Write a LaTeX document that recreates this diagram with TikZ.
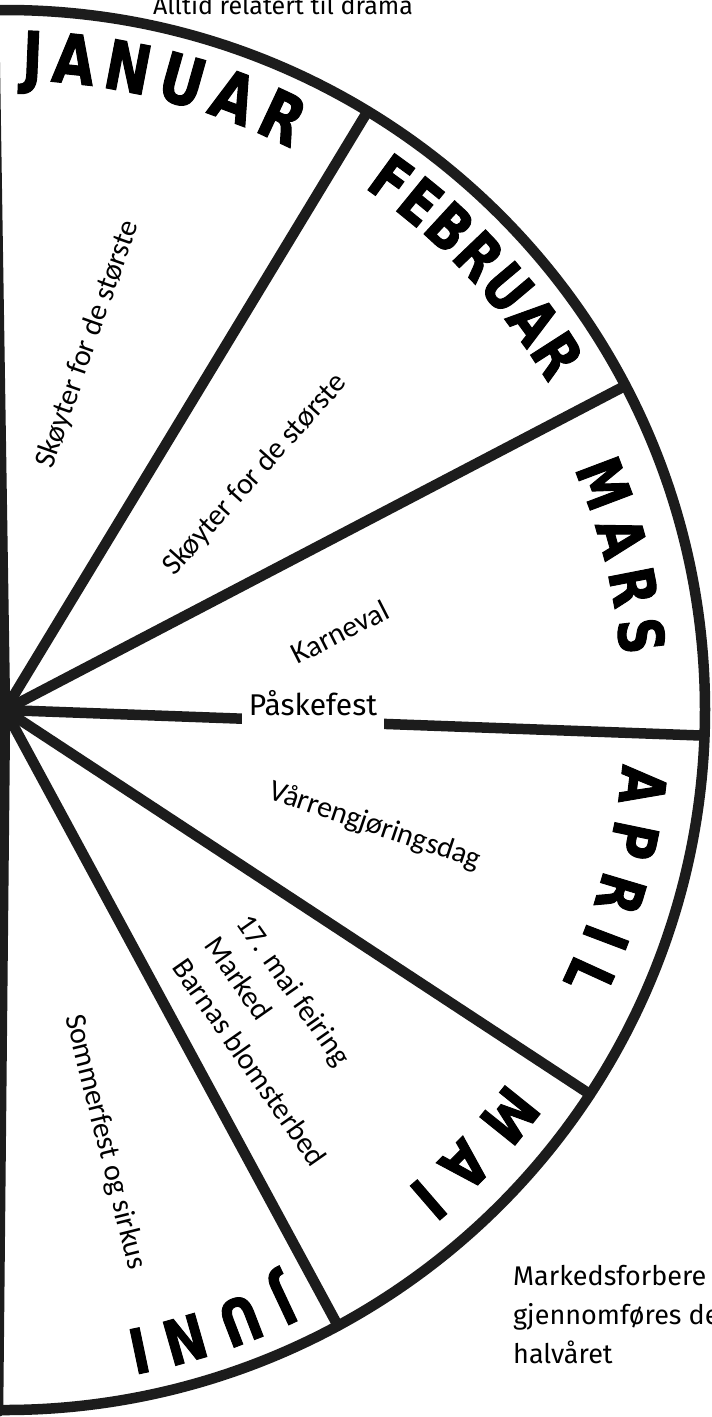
\documentclass[tikz,border=0pt]{standalone}
\usepackage{fontspec}
\setmainfont{Fira Sans}
\newfontfamily\labelfont{Carlito}
\newfontfamily\monthfont[FakeStretch=0.8, BoldFeatures={FakeBold=1.5}]{DejaVu Sans}
\usetikzlibrary{decorations.text}
\definecolor{inkc}{HTML}{1C1C1C}
\begin{document}
\begin{tikzpicture}[x=1pt,y=1pt,
  ink/.style={draw=inkc, line width=10.5pt, line cap=round, line join=round},
  lbl/.style={font=\labelfont\fontsize{30}{39}\selectfont, inner sep=0pt},
  month/.style={decorate, decoration={text along path, text align={fit to path},
     text={|\monthfont\bfseries\fontsize{62}{62}\selectfont|#1}}},
  bigmonth/.style={decorate, decoration={text along path, text align={fit to path},
     text={|\monthfont\bfseries\fontsize{68}{68}\selectfont|#1}}}
]
\useasboundingbox (0,0) rectangle (712,-1417);
\clip (0,0) rectangle (712,-1417);
\fill[white] (0,0) rectangle (712,-1417);

% centre and ends of the spokes
\coordinate (C) at (5,-710);
\coordinate (dtop) at (-6,-15);
\coordinate (dbot) at (-2,-1412);
\coordinate (jf) at ([shift={(58.8:700)}]C);
\coordinate (fm) at ([shift={(27.6:700)}]C);
\coordinate (ma) at ([shift={(-2.1:700)}]C);
\coordinate (am) at ([shift={(-33.3:700)}]C);
\coordinate (mj) at ([shift={(-61.6:700)}]C);

% outer rim
\draw[ink] ([shift={(92:700)}]C) arc[start angle=92, end angle=-92, radius=700];
% diameter
\draw[ink] (dtop) -- (C) -- (dbot);
% spokes
\draw[ink] (C) -- (jf);
\draw[ink] (C) -- (fm);
\draw[ink] (C) -- (ma);
\draw[ink] (C) -- (am);
\draw[ink] (C) -- (mj);

% month names along the rim
\path[bigmonth=JANUAR] ([shift={(88.5:630)}]C) arc[start angle=88.5, end angle=63, radius=630];
\path[month=FEBRUAR] ([shift={(55.5:634)}]C) arc[start angle=55.5, end angle=31, radius=634];
\path[month=MARS] ([shift={(23:618)}]C) arc[start angle=23, end angle=5, radius=618];
\path[month=APRIL] ([shift={(-5:620)}]C) arc[start angle=-5, end angle=-26, radius=620];
\path[month=MAI] ([shift={(-36.5:625)}]C) arc[start angle=-36.5, end angle=-50, radius=625];
\path[month=JUNI] ([shift={(-64:632)}]C) arc[start angle=-64, end angle=-79, radius=632];

% events
\node[lbl, rotate=70.6] (sk1) at (88,-344) {Skøyter for de største};
\node[lbl, rotate=48] (sk2) at (255,-475) {Skøyter for de største};
\node[lbl, rotate=27] (karn) at (340,-632) {Karneval};
\node[font=\fontsize{30}{30}\selectfont, fill=white, inner ysep=0pt, inner xsep=7pt,
      text height=27pt, text depth=22pt, anchor=base] (pask) at (313,-715) {Påskefest};
\node[lbl, rotate=-18.7] (vaar) at (375,-826) {Vårrengjøringsdag};
\node[lbl, rotate=-55, align=left] (mai) at (282,-1040) {17. mai feiring\\Marked\\Barnas blomsterbed};
\node[lbl, rotate=-76] (somm) at (105,-1142) {Sommerfest og sirkus};

% title and note
\node[font=\fontsize{25}{25}\selectfont, anchor=base, inner sep=0pt] (title) at (283,-14) {Alltid relatert til drama};
\node[font=\fontsize{27}{39}\selectfont, align=left, anchor=north west, inner sep=0pt] (note) at (513,-1265) {Markedsforbere\\gjennomføres de\\halvåret};
\end{tikzpicture}
\end{document}
